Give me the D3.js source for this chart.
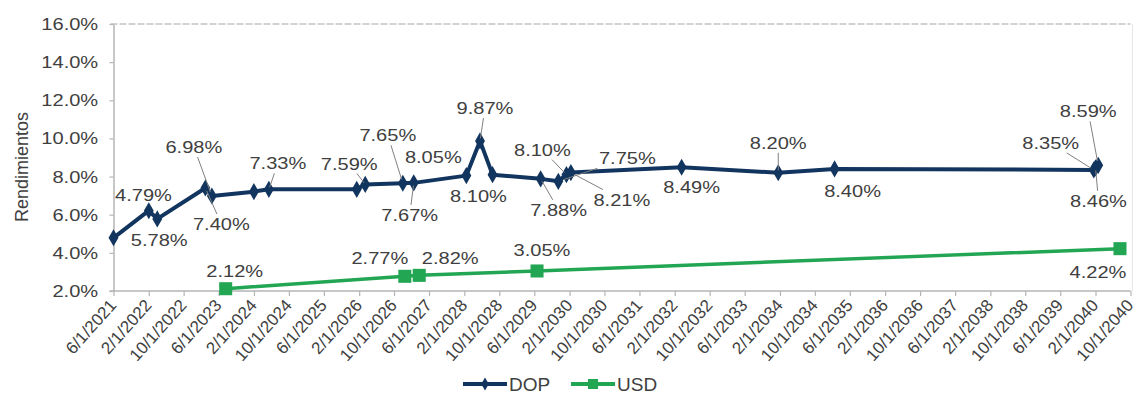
<!DOCTYPE html>
<html>
<head>
<meta charset="utf-8">
<script src="https://cdn.jsdelivr.net/npm/d3@7"></script>
<style>
  body { margin: 0; background: #fff; }
  text { font-family: "Liberation Sans", Arial, sans-serif; fill: #404040; }
</style>
</head>
<body>
<div id="chart"></div>
<script>
// data
var dopDates = ['2021-06-01', '2022-02-01', '2022-04-01', '2023-03-01', '2023-04-15', '2024-02-01',
    '2024-05-15', '2026-01-15', '2026-03-15', '2026-12-01', '2027-02-15', '2028-02-15',
    '2028-05-20', '2028-08-15', '2029-07-15', '2029-11-15', '2030-01-10', '2030-02-10',
    '2032-03-20', '2034-01-20', '2035-02-15', '2040-01-20', '2040-02-01', '2040-02-20'];
var dopValues = [4.79, 6.21, 5.78, 7.40, 6.98, 7.21, 7.33, 7.33, 7.59, 7.65, 7.67, 8.05,
    9.87, 8.10, 7.88, 7.75, 8.10, 8.21, 8.49, 8.20, 8.40, 8.35, 8.46, 8.59];
var dopLabels = ['4.79%', '', '5.78%', '7.40%', '6.98%', '', '7.33%', '', '7.59%', '7.65%', '7.67%', '8.05%',
    '9.87%', '8.10%', '7.88%', '7.75%', '8.10%', '8.21%', '8.49%', '8.20%', '8.40%', '8.35%', '8.46%', '8.59%'];

var usdDates = ['2023-07-20', '2026-12-15', '2027-03-25', '2029-06-20', '2040-07-20'];
var usdValues = [2.12, 2.77, 2.82, 3.05, 4.22];
var usdLabels = ['2.12%', '2.77%', '2.82%', '3.05%', '4.22%'];

var yTicks = [2, 4, 6, 8, 10, 12, 14, 16];
var seriesNames = ['DOP', 'USD'];

// label placement (offset of label centre from its point, leader line or not)
var dopLabelPos = [[30, -43, 0], null, [2, 21, 0], [16, 36, 1], [-18, -49, 1], null, [9, -26, 1], null,
    [-16, -21, 1], [-15, -48, 1], [-4, 32, 1], [-33, -19, 0], [5, -33, 1], [-14, 21, 0], [18, 31, 1],
    [69, -23, 1], [-24, -25, 1], [51, 27, 1], [10, 20, 0], [0, -30, 1], [18, 22, 0], [-43, -27, 1],
    [3, 33, 1], [-10, -54, 1]];
var usdLabelPos = [[9, -18, 0], [-25, -18, 0], [31, -17, 0], [5, -21, 0], [-22, 23, 0]];

// svg setup
var svgWidth = 1138;
var svgHeight = 395;
var margins = { top: 24, right: 7.5, bottom: 104, left: 113.5 };
var chartWidth = svgWidth - margins.left - margins.right;
var chartHeight = svgHeight - margins.top - margins.bottom;

var dopColor = '#12355f';
var usdColor = '#22a653';
var stretch = 1.18;

var parseDate = d3.timeParse('%Y-%m-%d');
var dop = dopDates.map((d, i) => ({ date: parseDate(d), value: dopValues[i], label: dopLabels[i], pos: dopLabelPos[i] }));
var usd = usdDates.map((d, i) => ({ date: parseDate(d), value: usdValues[i], label: usdLabels[i], pos: usdLabelPos[i] }));

var svg = d3.select('#chart')
    .append('svg')
    .attr('width', svgWidth)
    .attr('height', svgHeight);

var chartGroup = svg.append('g')
    .attr('transform', `translate(${margins.left}, ${margins.top})`);

var xStart = new Date(2021, 5, 1);
var xEnd = new Date(2040, 9, 1);
var xScale = d3.scaleTime()
    .domain([xStart, xEnd])
    .range([0, chartWidth]);

var yScale = d3.scaleLinear()
    .domain([2, 16])
    .range([chartHeight, 0]);

// top border with small ticks, and a faint right border
chartGroup.append('line')
    .attr('x1', -3).attr('x2', chartWidth)
    .attr('y1', 0).attr('y2', 0)
    .attr('stroke', '#c4c4c4')
    .attr('stroke-width', 1.5)
    .attr('stroke-dasharray', '7,2');
chartGroup.append('line')
    .attr('x1', chartWidth + 2).attr('x2', chartWidth + 2)
    .attr('y1', 0).attr('y2', chartHeight)
    .attr('stroke', '#e6e6e6');

// axes
var xTickValues = d3.timeMonth.range(xStart, d3.timeDay.offset(xEnd, 1), 8);
var bottomAxis = d3.axisBottom(xScale)
    .tickValues(xTickValues)
    .tickSize(5)
    .tickSizeOuter(0)
    .tickFormat(d3.timeFormat('%-m/%-d/%Y'));

var leftAxis = d3.axisLeft(yScale)
    .tickValues(yTicks)
    .tickSize(4)
    .tickSizeOuter(0)
    .tickFormat(d => d.toFixed(1) + '%');

var xAxisG = chartGroup.append('g')
    .attr('transform', `translate(0, ${chartHeight})`)
    .call(bottomAxis);
xAxisG.attr('font-size', 17);
xAxisG.select('.domain').attr('stroke', '#b5b5b5').attr('stroke-width', 1.5).attr('d', `M-4,0H${chartWidth}`);
xAxisG.selectAll('.tick line').attr('stroke', '#b5b5b5').attr('stroke-width', 1.2);
xAxisG.selectAll('.tick text')
    .attr('x', 0).attr('y', 0).attr('dy', '0.35em')
    .attr('text-anchor', 'end')
    .attr('transform', 'translate(-1, 11) rotate(-48)')
    .style('font-size', '17px')
    .style('font-family', '"Liberation Sans", Arial, sans-serif')
    .attr('fill', '#404040');

var yAxisG = chartGroup.append('g').call(leftAxis);
yAxisG.select('.domain').attr('stroke', '#b5b5b5').attr('stroke-width', 1.5);
yAxisG.selectAll('.tick line').attr('stroke', '#b5b5b5').attr('stroke-width', 1.2);
yAxisG.attr('font-size', 17);
yAxisG.selectAll('.tick text')
    .attr('x', -13)
    .attr('transform', `scale(${stretch}, 1)`)
    .style('font-size', '17px')
    .style('font-family', '"Liberation Sans", Arial, sans-serif')
    .attr('fill', '#404040');

// axis title
svg.append('text')
    .attr('transform', 'translate(28, 167) rotate(-90)')
    .attr('text-anchor', 'middle')
    .style('font-size', '18px')
    .text('Rendimientos');

// lines
var line = d3.line()
    .x(d => xScale(d.date))
    .y(d => yScale(d.value));

chartGroup.append('path')
    .datum(usd)
    .attr('d', line)
    .attr('fill', 'none')
    .attr('stroke', usdColor)
    .attr('stroke-width', 3.5);

chartGroup.append('path')
    .datum(dop)
    .attr('d', line)
    .attr('fill', 'none')
    .attr('stroke', dopColor)
    .attr('stroke-width', 4)
    .attr('stroke-linejoin', 'round');

// markers
var diamond = d3.symbol().type(d3.symbolDiamond).size(85);
var square = d3.symbol().type(d3.symbolSquare).size(170);

chartGroup.selectAll('.dopMark')
    .data(dop)
    .enter()
    .append('path')
    .attr('class', 'dopMark')
    .attr('d', diamond)
    .attr('transform', d => `translate(${xScale(d.date)}, ${yScale(d.value)})`)
    .attr('fill', dopColor);

chartGroup.selectAll('.usdMark')
    .data(usd)
    .enter()
    .append('path')
    .attr('class', 'usdMark')
    .attr('d', square)
    .attr('transform', d => `translate(${xScale(d.date)}, ${yScale(d.value)})`)
    .attr('fill', usdColor);

// data labels with leader lines
function drawLabels(data) {
    var labelled = data.filter(d => d.label && d.pos);
    labelled.forEach(function(d) {
        var px = xScale(d.date), py = yScale(d.value);
        var lx = px + d.pos[0], ly = py + d.pos[1];
        if (d.pos[2]) {
            // leave the label box, then run to the point
            var dx = px - lx, dy = py - ly;
            var t = Math.min(Math.abs(dx) > 0 ? 31 / Math.abs(dx) : 1e9, Math.abs(dy) > 0 ? 10 / Math.abs(dy) : 1e9);
            chartGroup.append('line')
                .attr('x1', lx + dx * t).attr('y1', ly + dy * t)
                .attr('x2', px - dx * 0.08).attr('y2', py - dy * 0.08)
                .attr('stroke', '#808080')
                .attr('stroke-width', 1);
        }
        chartGroup.append('text')
            .attr('transform', `translate(${lx}, ${ly}) scale(${stretch}, 1)`)
            .attr('text-anchor', 'middle')
            .attr('dy', '0.36em')
            .style('font-size', '17px')
            .text(d.label);
    });
}
drawLabels(dop);
drawLabels(usd);

// legend
var legend = svg.append('g').attr('transform', 'translate(0, 384)');
var legendItems = [
    { name: seriesNames[0], color: dopColor, symbol: d3.symbol().type(d3.symbolDiamond).size(50), x: 463 },
    { name: seriesNames[1], color: usdColor, symbol: d3.symbol().type(d3.symbolSquare).size(100), x: 571 }
];
legendItems.forEach(function(item) {
    legend.append('line')
        .attr('x1', item.x).attr('x2', item.x + 44)
        .attr('y1', 0).attr('y2', 0)
        .attr('stroke', item.color)
        .attr('stroke-width', 4);
    legend.append('path')
        .attr('d', item.symbol)
        .attr('transform', `translate(${item.x + 22}, 0)`)
        .attr('fill', item.color);
    legend.append('text')
        .attr('x', item.x + 46)
        .attr('dy', '0.36em')
        .style('font-size', '19px')
        .text(item.name);
});
</script>
</body>
</html>
